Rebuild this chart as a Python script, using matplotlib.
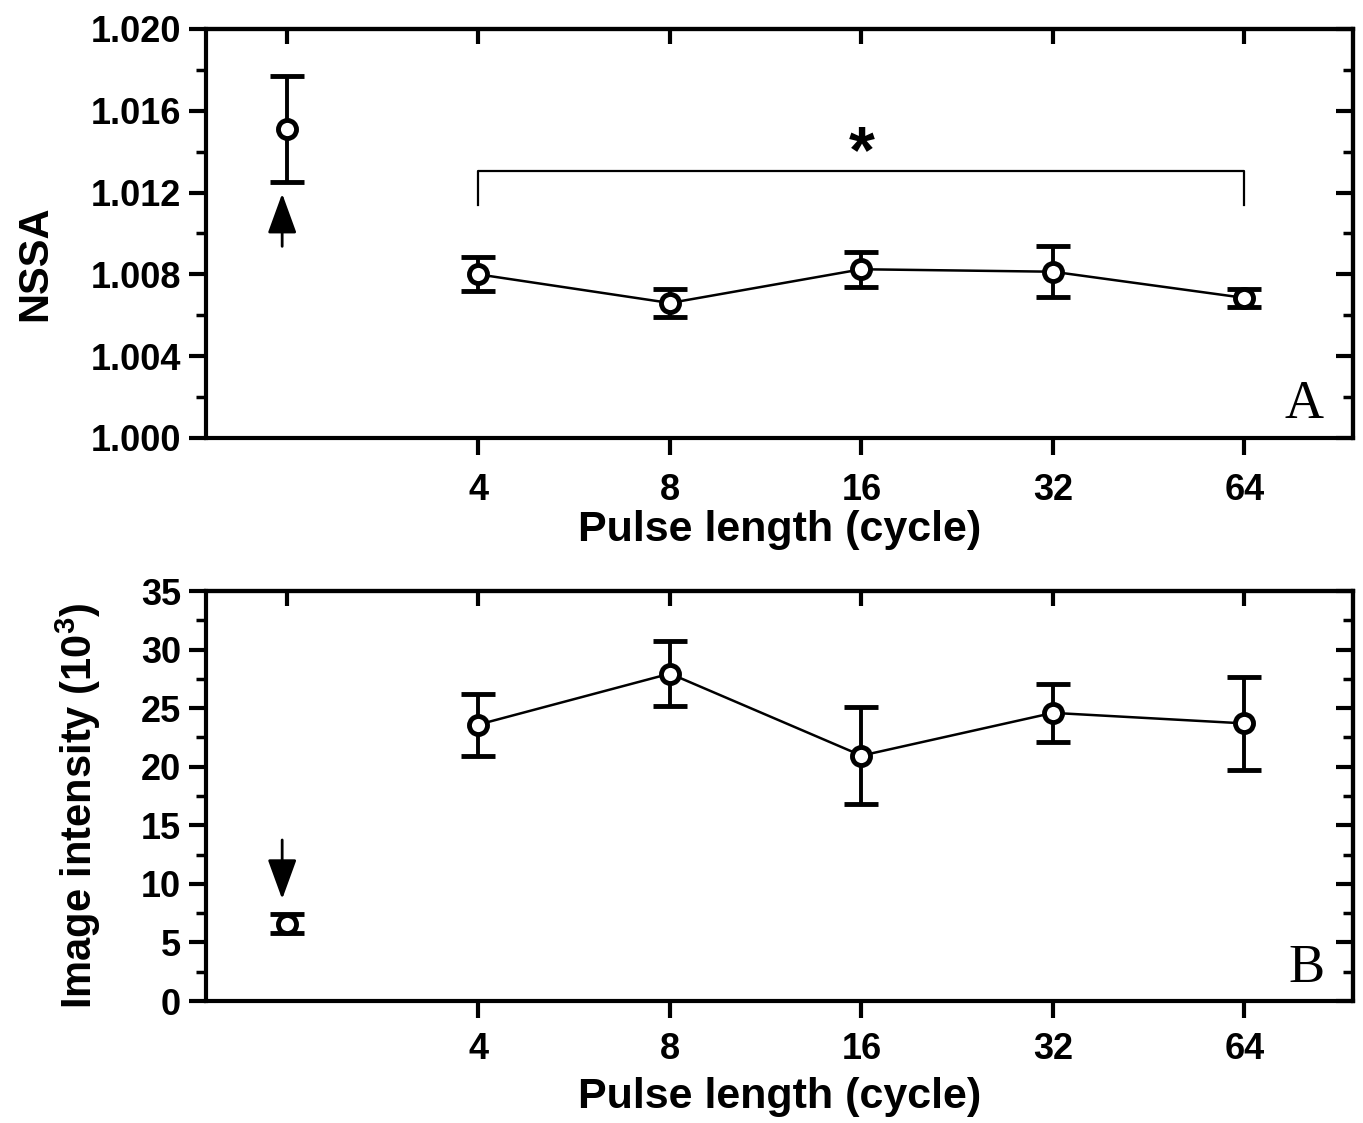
import matplotlib
matplotlib.use('Agg')
import matplotlib.pyplot as plt
import numpy as np
from matplotlib.ticker import MultipleLocator, FormatStrFormatter

# pulse lengths (cycles) and the two measured quantities
cycles = [4, 8, 16, 32, 64]
nssa = [1.0080, 1.0066, 1.00825, 1.00813, 1.00685]
nssa_err = [0.00083, 0.0007, 0.00085, 0.00126, 0.00044]
nssa_ctrl = 1.0151
nssa_ctrl_err = 0.0026

intensity = [23.6, 27.95, 20.95, 24.6, 23.7]
intensity_err = [2.65, 2.75, 4.15, 2.5, 3.95]
int_ctrl = 6.6
int_ctrl_err = 0.8

plt.rcParams['font.family'] = ['Liberation Sans', 'DejaVu Sans']
plt.rcParams['font.weight'] = 'bold'
plt.rcParams['mathtext.fontset'] = 'custom'
plt.rcParams['mathtext.bf'] = 'Liberation Sans:bold'
plt.rcParams['mathtext.rm'] = 'Liberation Sans:bold'
plt.rcParams['mathtext.default'] = 'bf'

fig = plt.figure(figsize=(13.63, 11.23), dpi=100)
ax1 = fig.add_axes([0.1511, 0.6100, 0.8416, 0.3642])
ax2 = fig.add_axes([0.1511, 0.1086, 0.8416, 0.3651])

x = np.log2(cycles)
ctrl_x = 1
arrow = '-|>,head_length=0.55,head_width=0.2'


def draw(ax, vals, errs, cval, cerr):
    style = dict(color='k', elinewidth=2.8, capsize=12.5, capthick=2.8,
                 ms=13, mfc='white', mec='k', mew=3.5)
    ax.errorbar(x, vals, yerr=errs, fmt='-o', lw=1.8, **style)
    ax.errorbar([ctrl_x], [cval], yerr=[cerr], fmt='o', **style)


def frame(ax, ymin, ymax, major, minor, xpad):
    ax.set_xlim(0.577, 6.567)
    ax.set_ylim(ymin, ymax)
    ax.set_xticks(x)
    ax.set_xticklabels([str(c) for c in cycles])
    ax.yaxis.set_major_locator(MultipleLocator(major))
    ax.yaxis.set_minor_locator(MultipleLocator(minor))
    ax.tick_params(which='major', direction='out', length=12, width=3,
                   labelsize=26, top=False, right=False)
    ax.tick_params(which='minor', direction='out', length=7, width=2.5,
                   top=False, right=False)
    ax.tick_params(axis='x', which='minor', bottom=False)
    ax.tick_params(axis='x', pad=xpad)
    ax.tick_params(axis='y', pad=6)
    for s in ax.spines.values():
        s.set_linewidth(3)
    # inward ticks on top and right
    top = ax.secondary_xaxis('top')
    top.set_xticks(np.arange(1, 7))
    top.set_xticklabels([])
    top.tick_params(direction='in', length=11, width=3)
    top.spines['top'].set_linewidth(3)
    right = ax.secondary_yaxis('right')
    right.yaxis.set_major_locator(MultipleLocator(major))
    right.yaxis.set_minor_locator(MultipleLocator(minor))
    right.tick_params(which='major', direction='in', length=12, width=3, labelright=False)
    right.tick_params(which='minor', direction='in', length=7, width=2.5)
    right.spines['right'].set_linewidth(3)
    ax.set_xlabel('Pulse length (cycle)', fontsize=31, fontweight='bold')


draw(ax1, nssa, nssa_err, nssa_ctrl, nssa_ctrl_err)
frame(ax1, 1.000, 1.020, 0.004, 0.002, 13)
ax1.yaxis.set_major_formatter(FormatStrFormatter('%.3f'))
ax1.set_ylabel('NSSA', fontsize=30, fontweight='bold')
ax1.yaxis.set_label_coords(-0.131, 0.427)
ax1.xaxis.set_label_coords(0.5, -0.175)

# significance bracket
ax1.plot([x[0], x[0], x[-1], x[-1]], [1.01137, 1.01307, 1.01307, 1.01137], color='k', lw=1.6)
ax1.text(x[2], 1.0130, '*', ha='center', va='baseline', fontsize=48, fontweight='bold')
ax1.annotate('', xy=(0.975, 1.01195), xytext=(0.975, 1.00937),
             arrowprops=dict(arrowstyle=arrow, color='k', lw=2, mutation_scale=45,
                             shrinkA=0, shrinkB=0))
ax1.text(0.957, 0.049, 'A', transform=ax1.transAxes, ha='center', va='baseline',
         fontsize=39, fontweight='normal', family='Liberation Serif')

draw(ax2, intensity, intensity_err, int_ctrl, int_ctrl_err)
frame(ax2, 0, 35, 5, 2.5, 10)
ax2.set_ylabel('Image intensity (10$^{3}$)', fontsize=30, fontweight='bold')
ax2.yaxis.set_label_coords(-0.09, 0.476)
ax2.xaxis.set_label_coords(0.5, -0.185)
ax2.annotate('', xy=(0.975, 8.7), xytext=(0.975, 13.75),
             arrowprops=dict(arrowstyle=arrow, color='k', lw=2, mutation_scale=45,
                             shrinkA=0, shrinkB=0))
ax2.text(0.959, 0.046, 'B', transform=ax2.transAxes, ha='center', va='baseline',
         fontsize=39, fontweight='normal', family='Liberation Serif')

fig.savefig('out.png', dpi=100)
